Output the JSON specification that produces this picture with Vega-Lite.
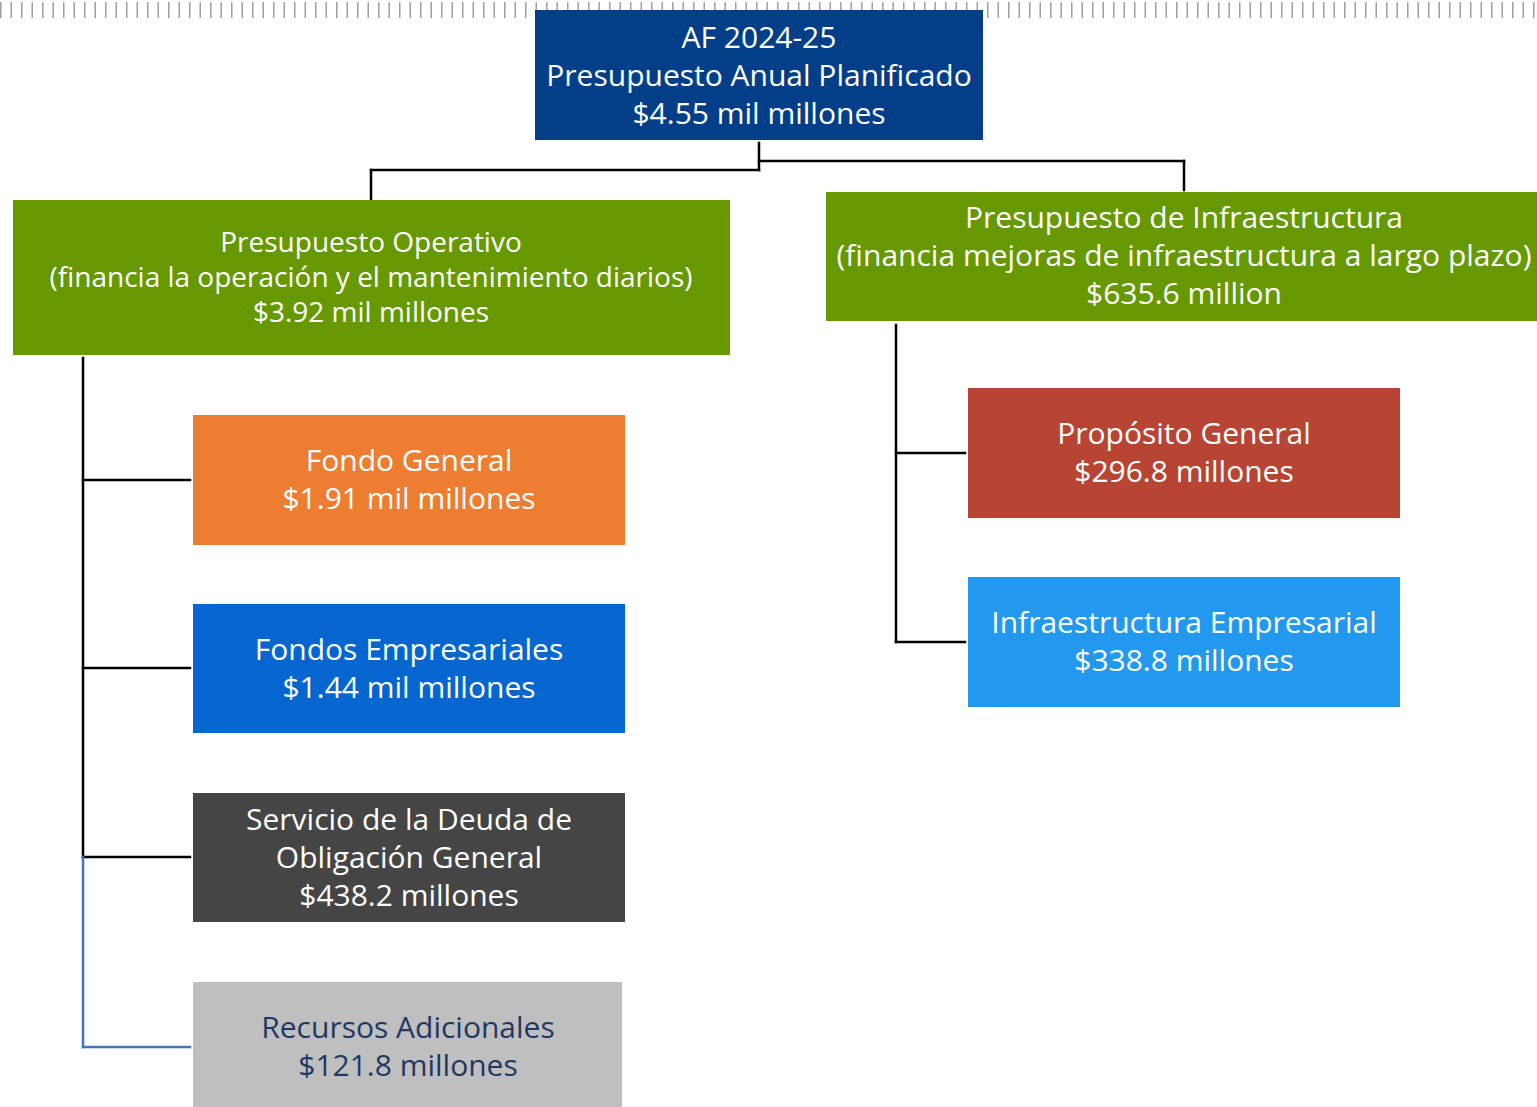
{
  "$schema": "https://vega.github.io/schema/vega-lite/v6.json",
  "width": 1537,
  "height": 1107,
  "padding": 0,
  "autosize": {"type": "none"},
  "background": "white",
  "config": {"view": {"stroke": null}},
  "datasets": {
    "boxes": [
      {"name": "AF", "x1": 535, "x2": 983, "y1": 10, "y2": 140, "cx": 759, "ty": 37, "group": "big", "lines": ["AF 2024-25", "Presupuesto Anual Planificado", "$4.55 mil millones"]},
      {"name": "Operativo", "x1": 13, "x2": 730, "y1": 200, "y2": 355, "cx": 371, "ty": 242, "group": "small", "lines": ["Presupuesto Operativo", "(financia la operación y el mantenimiento diarios)", "$3.92 mil millones"]},
      {"name": "Infraestructura", "x1": 826, "x2": 1537, "y1": 192, "y2": 321, "cx": 1184, "ty": 217, "group": "big", "lines": ["Presupuesto de Infraestructura", "(financia mejoras de infraestructura a largo plazo)", "$635.6 million"]},
      {"name": "Fondo General", "x1": 193, "x2": 625, "y1": 415, "y2": 545, "cx": 409, "ty": 460, "group": "big", "lines": ["Fondo General", "$1.91 mil millones"]},
      {"name": "Fondos Empresariales", "x1": 193, "x2": 625, "y1": 604, "y2": 733, "cx": 409, "ty": 649, "group": "big", "lines": ["Fondos Empresariales", "$1.44 mil millones"]},
      {"name": "Servicio", "x1": 193, "x2": 625, "y1": 793, "y2": 922, "cx": 409, "ty": 819, "group": "big", "lines": ["Servicio de la Deuda de", "Obligación General", "$438.2 millones"]},
      {"name": "Recursos", "x1": 193, "x2": 622, "y1": 982, "y2": 1107, "cx": 408, "ty": 1027, "group": "big", "lines": ["Recursos Adicionales", "$121.8 millones"]},
      {"name": "Propósito", "x1": 968, "x2": 1400, "y1": 388, "y2": 518, "cx": 1184, "ty": 433, "group": "big", "lines": ["Propósito General", "$296.8 millones"]},
      {"name": "Infra Empresarial", "x1": 968, "x2": 1400, "y1": 577, "y2": 707, "cx": 1184, "ty": 622, "group": "big", "lines": ["Infraestructura Empresarial", "$338.8 millones"]}
    ],
    "links": [
      {"x1": 759, "x2": 759, "y1": 143, "y2": 170, "kind": "black"},
      {"x1": 371, "x2": 759, "y1": 170, "y2": 170, "kind": "black"},
      {"x1": 371, "x2": 371, "y1": 170, "y2": 199, "kind": "black"},
      {"x1": 759, "x2": 1184, "y1": 161, "y2": 161, "kind": "black"},
      {"x1": 1184, "x2": 1184, "y1": 161, "y2": 190, "kind": "black"},
      {"x1": 83, "x2": 83, "y1": 358, "y2": 857, "kind": "black"},
      {"x1": 83, "x2": 190, "y1": 480, "y2": 480, "kind": "black"},
      {"x1": 83, "x2": 190, "y1": 668, "y2": 668, "kind": "black"},
      {"x1": 83, "x2": 190, "y1": 857, "y2": 857, "kind": "black"},
      {"x1": 83, "x2": 83, "y1": 857, "y2": 1047, "kind": "blue"},
      {"x1": 83, "x2": 190, "y1": 1047, "y2": 1047, "kind": "blue"},
      {"x1": 896, "x2": 896, "y1": 325, "y2": 642, "kind": "black"},
      {"x1": 896, "x2": 965, "y1": 453, "y2": 453, "kind": "black"},
      {"x1": 896, "x2": 965, "y1": 642, "y2": 642, "kind": "black"}
    ],
    "hatch": [{"x1": 0, "x2": 1537, "y": 10}]
  },
  "layer": [
    {
      "data": {"name": "hatch"},
      "mark": {"type": "rule", "strokeWidth": 16, "strokeDash": [1.5, 9], "color": "#a0a0a0"},
      "encoding": {
        "x": {"field": "x1", "type": "quantitative", "scale": {"domain": [0, 1537], "nice": false, "zero": false}, "axis": null},
        "x2": {"field": "x2"},
        "y": {"field": "y", "type": "quantitative", "scale": {"domain": [0, 1107], "nice": false, "zero": false, "reverse": true}, "axis": null}
      }
    },
    {
      "data": {"name": "links"},
      "mark": {"type": "rule", "strokeWidth": 2.5, "strokeCap": "square"},
      "encoding": {
        "x": {"field": "x1", "type": "quantitative", "scale": {"domain": [0, 1537], "nice": false, "zero": false}, "axis": null},
        "x2": {"field": "x2"},
        "y": {"field": "y1", "type": "quantitative", "scale": {"domain": [0, 1107], "nice": false, "zero": false, "reverse": true}, "axis": null},
        "y2": {"field": "y2"},
        "color": {"field": "kind", "type": "nominal", "scale": {"domain": ["black", "blue"], "range": ["#000000", "#4472c4"]}, "legend": null}
      }
    },
    {
      "data": {"name": "boxes"},
      "mark": {"type": "rect"},
      "encoding": {
        "x": {"field": "x1", "type": "quantitative", "scale": {"domain": [0, 1537], "nice": false, "zero": false}, "axis": null},
        "x2": {"field": "x2"},
        "y": {"field": "y1", "type": "quantitative", "scale": {"domain": [0, 1107], "nice": false, "zero": false, "reverse": true}, "axis": null},
        "y2": {"field": "y2"},
        "fill": {"field": "name", "type": "nominal", "legend": null, "scale": {
          "domain": ["AF", "Operativo", "Infraestructura", "Fondo General", "Fondos Empresariales", "Servicio", "Recursos", "Propósito", "Infra Empresarial"],
          "range": ["#023f88", "#669900", "#669900", "#ed7d31", "#0566d0", "#454545", "#bfbfbf", "#b84434", "#2299ee"]}}
      }
    },
    {
      "data": {"name": "boxes"},
      "transform": [{"filter": "datum.group === 'big'"}],
      "mark": {"type": "text", "align": "center", "baseline": "middle", "font": "Open Sans", "fontSize": 30, "lineHeight": 38, "dy": 2},
      "encoding": {
        "x": {"field": "cx", "type": "quantitative", "scale": {"domain": [0, 1537], "nice": false, "zero": false}, "axis": null},
        "y": {"field": "ty", "type": "quantitative", "scale": {"domain": [0, 1107], "nice": false, "zero": false, "reverse": true}, "axis": null},
        "text": {"field": "lines"},
        "color": {"condition": {"test": "datum.name === 'Recursos'", "value": "#1f3864"}, "value": "#ffffff"}
      }
    },
    {
      "data": {"name": "boxes"},
      "transform": [{"filter": "datum.group === 'small'"}],
      "mark": {"type": "text", "align": "center", "baseline": "middle", "font": "Open Sans", "fontSize": 28, "lineHeight": 35, "dy": 2, "color": "#ffffff"},
      "encoding": {
        "x": {"field": "cx", "type": "quantitative", "scale": {"domain": [0, 1537], "nice": false, "zero": false}, "axis": null},
        "y": {"field": "ty", "type": "quantitative", "scale": {"domain": [0, 1107], "nice": false, "zero": false, "reverse": true}, "axis": null},
        "text": {"field": "lines"}
      }
    }
  ]
}
